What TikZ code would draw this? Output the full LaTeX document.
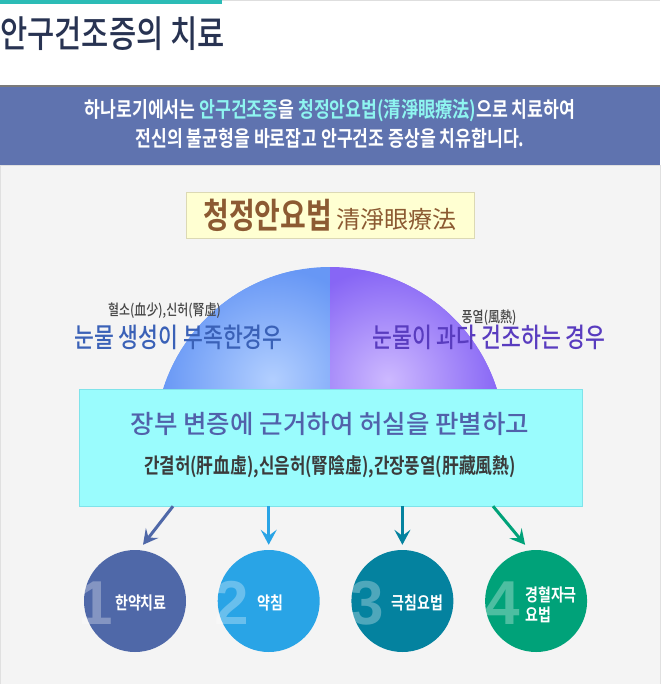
\documentclass[tikz,border=0pt]{standalone}
\usepackage{fontspec}
\usetikzlibrary{arrows.meta,positioning,shadows}
\newfontfamily\kr{Noto Sans CJK KR}[BoldFont={Noto Sans CJK KR Bold}]
\newfontfamily\krn{Noto Sans CJK KR}[FakeStretch=0.8,BoldFont={Noto Sans CJK KR Bold}]
\newfontfamily\krm{Noto Sans CJK KR Medium}[FakeStretch=0.8]
\newfontfamily\krmw{Noto Sans CJK KR Medium}
\newfontfamily\chiffrefont{Liberation Sans}
\definecolor{sarcelle}{HTML}{2BBCB6}
\definecolor{marine}{HTML}{283352}
\definecolor{bandeau}{HTML}{5F73AF}
\definecolor{surligne}{HTML}{8EF5F0}
\definecolor{fond}{HTML}{F4F4F4}
\definecolor{jaune}{HTML}{FFFFD2}
\definecolor{jauneBord}{HTML}{DCD9B4}
\definecolor{brun}{HTML}{8C5A32}
\definecolor{bleuD}{HTML}{6797F5}
\definecolor{bleuL}{HTML}{B2CFFF}
\definecolor{violetD}{HTML}{8766F5}
\definecolor{violetL}{HTML}{CDB9FF}
\definecolor{bleuTxt}{HTML}{3A61B7}
\definecolor{violetTxt}{HTML}{593CBF}
\definecolor{cyanBox}{HTML}{9AFCFD}
\definecolor{cyanBord}{HTML}{7FE3EA}
\definecolor{ligneUn}{HTML}{5161AA}
\definecolor{c1}{HTML}{4F68A8}
\definecolor{c2}{HTML}{29A4E6}
\definecolor{c3}{HTML}{04829F}
\definecolor{c4}{HTML}{00A279}
\tikzset{
    txt/.style={inner sep=0pt},
    rond/.style={circle, minimum size=102pt, inner sep=0pt},
    chiffre/.style={inner sep=0pt, anchor=west, text=white, text opacity=0.3, font=\chiffrefont\bfseries\fontsize{62}{62}\selectfont},
    soin/.style={inner sep=0pt, anchor=west, text=white, align=left, font=\krn\bfseries\fontsize{17.5}{20}\selectfont},
    fleche/.style={line width=3pt, -{Stealth[length=15pt,width=16pt,inset=6pt]}},
  }
\begin{document}
\begin{tikzpicture}[x=1pt,y=-1pt]
				  %fond et bandeau
				  \useasboundingbox (0,0) rectangle (660,684);
				  \fill[white] (0,0) rectangle (660,684);
				  \fill[black!13] (0,0) rectangle (660,1.5);
				  \fill[sarcelle] (0,0) rectangle (222,4);
				  \fill[black!52] (0,85) rectangle (660,87);
				  \fill[bandeau] (0,87) rectangle (660,165);
				  \filldraw[fill=fond, draw=black!12] (0,165) rectangle (660,684);
				  \node[txt, anchor=west, text=marine, font=\krm\fontsize{37}{40}\selectfont] (Titre) at (0,34) {안구건조증의 치료};
				  \node[txt, text=white, font=\krn\bfseries\fontsize{21.5}{24}\selectfont] (Ligne1) at (330,111) {하나로기에서는 \textcolor{surligne}{안구건조증}을 \textcolor{surligne}{청정안요법(清淨眼療法)}으로 치료하여};
				  \node[txt, text=white, font=\krn\bfseries\fontsize{21.5}{24}\selectfont] (Ligne2) at (330,138) {전신의 불균형을 바로잡고 안구건조 증상을 치유합니다.};
				  %demi-disque
				  \begin{scope}
				  \clip (330,442) -- (155,442) arc[start angle=180, end angle=270, radius=175] -- cycle;
				  \fill[bleuD] (150,260) rectangle (330,442);
				  \shade[inner color=bleuL, outer color=bleuD] (272,380) circle (112);
				  \end{scope}
				  \begin{scope}
				  \clip (330,442) -- (330,267) arc[start angle=270, end angle=360, radius=175] -- cycle;
				  \fill[violetD] (330,260) rectangle (510,442);
				  \shade[inner color=violetL, outer color=violetD] (388,380) circle (112);
				  \end{scope}
				  \node[txt, fill=jaune, draw=jauneBord, minimum width=288pt, minimum height=46pt, drop shadow={shadow xshift=1pt, shadow yshift=-1.5pt, opacity=0.25}, text=brun, font=\krn\fontsize{24}{28}\selectfont] (Methode) at (330,215) {{\bfseries\fontsize{35}{38}\selectfont 청정안요법} {\kr\fontsize{24}{28}\selectfont 清淨眼療法}};
				  \node[txt, text=black!73, font=\krm\fontsize{15}{16}\selectfont] (CauseG) at (164.5,311) {혈소(血少),신허(腎虛)};
				  \node[txt, text=bleuTxt, font=\krm\fontsize{27}{30}\selectfont] (CasG) at (178.5,337) {눈물 생성이 부족한경우};
				  \node[txt, text=violetTxt, font=\krm\fontsize{27}{30}\selectfont] (CasD) at (489,337) {눈물이 과다 건조하는 경우};
				  \node[txt, text=black!73, font=\krm\fontsize{15}{16}\selectfont, above=19pt of CasD.center, anchor=center] (CauseD) {풍열(風熱)};
				  %cercles
				  \node[rond, fill=c1] (C1) at (135,601) {};
				  \node[rond, fill=c2, right=31.3pt of C1] (C2) {};
				  \node[rond, fill=c3, right=31.3pt of C2] (C3) {};
				  \node[rond, fill=c4, right=31.3pt of C3] (C4) {};
				  \node[txt, fill=cyanBox, draw=cyanBord, minimum width=503pt, minimum height=117pt] (Boite) at (330.5,447.5) {};
				  \node[txt, text=ligneUn, font=\krmw\fontsize{25.5}{28}\selectfont] (Texte1) at (330,424) {장부 변증에 근거하여 허실을 판별하고};
				  \node[txt, text=black!77, font=\krn\bfseries\fontsize{21}{24}\selectfont] (Texte2) at (330,467) {간결허(肝血虛),신음허(腎陰虛),간장풍열(肝藏風熱)};
				  \draw[fleche, c1] ([xshift=-157.5pt]Boite.south) -- ([shift={(8pt,5pt)}]C1.north);
				  \draw[fleche, c2] (Boite.south -| C2.north) -- ([yshift=5pt]C2.north);
				  \draw[fleche, c3] (Boite.south -| C3.north) -- ([yshift=5pt]C3.north);
				  \draw[fleche, c4] ([xshift=162.5pt]Boite.south) -- ([shift={(-11pt,5pt)}]C4.north);
				  \node[chiffre] (N1) at ([xshift=-6pt, yshift=-2pt]C1.west) {1};
				  \node[chiffre] (N2) at ([xshift=-3pt, yshift=-2pt]C2.west) {2};
				  \node[chiffre] (N3) at ([xshift=-2pt, yshift=-2pt]C3.west) {3};
				  \node[chiffre] (N4) at ([yshift=-2pt]C4.west) {4};
				  \node[soin] (S1) at ([xshift=-20pt, yshift=-2pt]C1.center) {한약치료};
				  \node[soin] (S2) at ([xshift=-11pt, yshift=-2pt]C2.center) {약침};
				  \node[soin] (S3) at ([xshift=-11pt, yshift=-2pt]C3.center) {극침요법};
				  \node[soin] (S4) at ([xshift=-11pt, yshift=-4pt]C4.center) {경혈자극\\요법};
\end{tikzpicture}
\end{document}
